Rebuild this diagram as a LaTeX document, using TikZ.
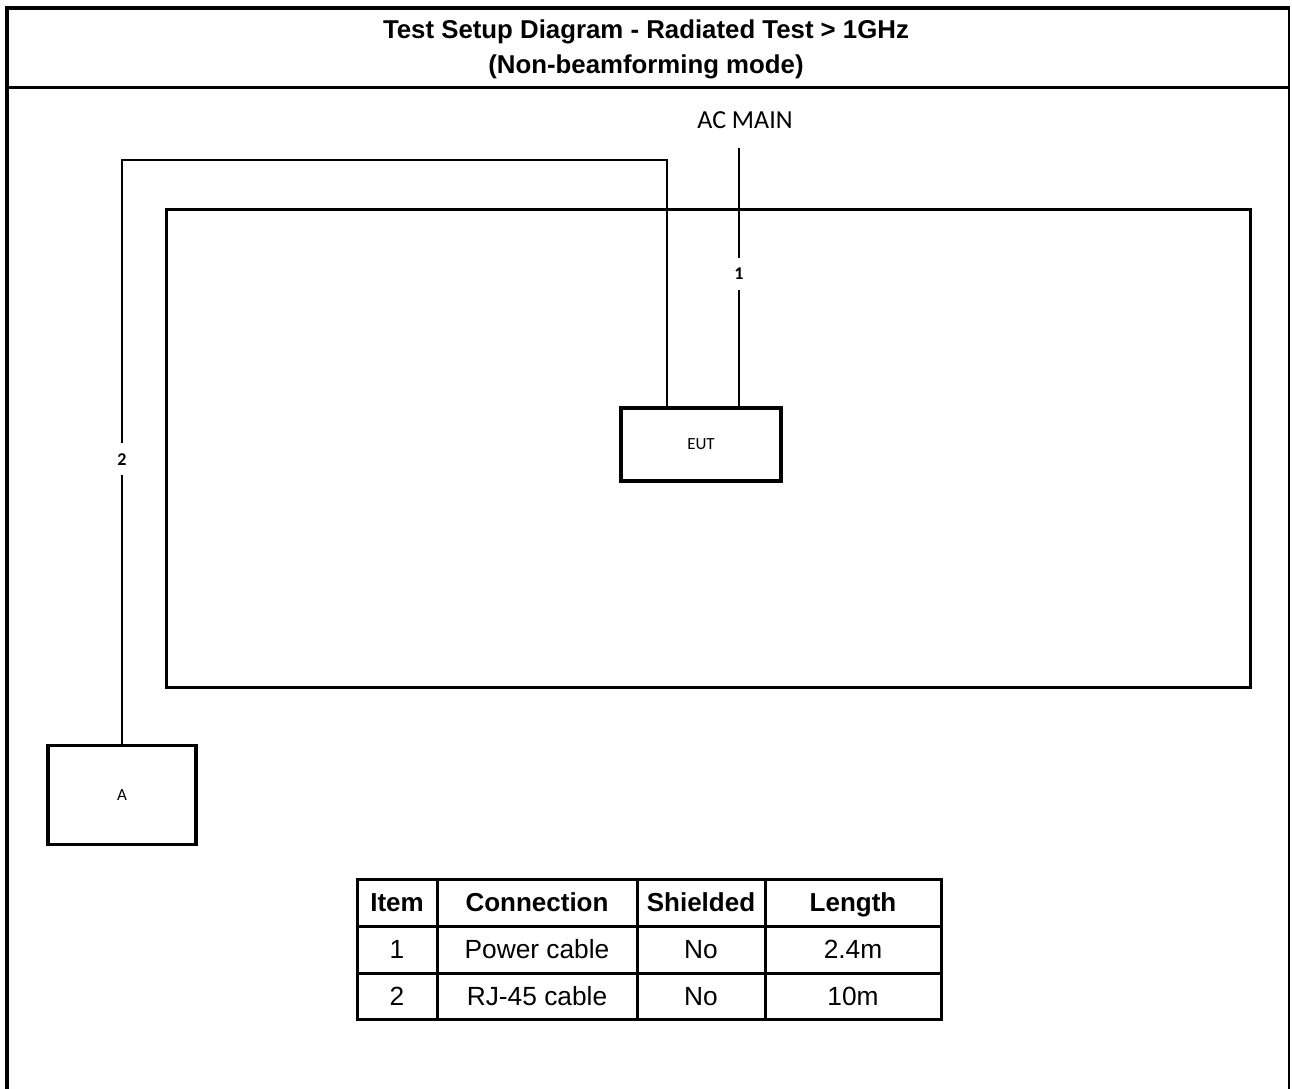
\documentclass[tikz,border=0pt]{standalone}
\usepackage{fontspec}
\setmainfont{Liberation Sans}
\newfontfamily\calfont{Carlito}
\begin{document}
\begin{tikzpicture}[x=1pt,y=-1pt,
  framethick/.style={line width=4pt},
  cable/.style={line width=2pt},
  chamber/.style={draw, line width=3pt, inner sep=0pt, outer sep=0pt, anchor=north west},
  unit/.style={draw, line width=3.5pt, inner sep=0pt, outer sep=0pt, font=\calfont\fontsize{17}{19}\selectfont},
  lbl/.style={fill=white, inner xsep=3pt, inner ysep=10pt, font=\calfont\bfseries\fontsize{18}{20}\selectfont},
  cell/.style={draw, line width=3pt, inner sep=0pt, outer sep=0pt, anchor=north west,
    text height=18.8pt, text depth=0pt, font=\fontsize{26.3}{30}\selectfont},
  hcell/.style={cell, font=\bfseries\fontsize{26}{30}\selectfont}]
\useasboundingbox (0,0) rectangle (1292,1088);
% outer frame
\draw[framethick] (7,1090) -- (7,8) -- (1289,8);
\draw[line width=2pt] (1289,6) -- (1289,1090);
\draw[line width=3pt] (5,87) -- (1290,87);
\node[font=\bfseries\fontsize{25.8}{35}\selectfont, align=center] (title) at (646,49)
  {Test Setup Diagram - Radiated Test > 1GHz\\(Non-beamforming mode)};
% chamber
\node[chamber, minimum width=1084pt, minimum height=478pt] (room) at (166,209) {};
% units
\node[unit, minimum width=160pt, minimum height=73pt] (EUT) at (701,444.5) {EUT};
\node[unit, minimum width=148pt, minimum height=99pt] (A) at (122,795) {A};
% AC main
\node[font=\calfont\fontsize{26}{28}\selectfont] (acmain) at (745,120) {AC MAIN};
\coordinate (acm) at (739,148);
\coordinate (top2) at (122,160);
\draw[cable] (acm) -- node[lbl, pos=0.485] {1} (acm |- EUT.north);
\draw[cable] ([xshift=46pt]EUT.north west) |- (top2) -- node[lbl, pos=0.511] {2} (A.north);
% table
\node[hcell, minimum width=80pt, minimum height=47pt] (t11) at (357,879) {Item};
\node[hcell, minimum width=200pt, minimum height=47pt] (t12) at (437,879) {Connection};
\node[hcell, minimum width=128pt, minimum height=47pt] (t13) at (637,879) {Shielded};
\node[hcell, minimum width=176pt, minimum height=47pt] (t14) at (765,879) {Length};
\node[cell, minimum width=80pt, minimum height=47pt] (t21) at (357,926) {1};
\node[cell, minimum width=200pt, minimum height=47pt] (t22) at (437,926) {Power cable};
\node[cell, minimum width=128pt, minimum height=47pt] (t23) at (637,926) {No};
\node[cell, minimum width=176pt, minimum height=47pt] (t24) at (765,926) {2.4m};
\node[cell, minimum width=80pt, minimum height=46pt] (t31) at (357,973) {2};
\node[cell, minimum width=200pt, minimum height=46pt] (t32) at (437,973) {RJ-45 cable};
\node[cell, minimum width=128pt, minimum height=46pt] (t33) at (637,973) {No};
\node[cell, minimum width=176pt, minimum height=46pt] (t34) at (765,973) {10m};
\end{tikzpicture}
\end{document}
